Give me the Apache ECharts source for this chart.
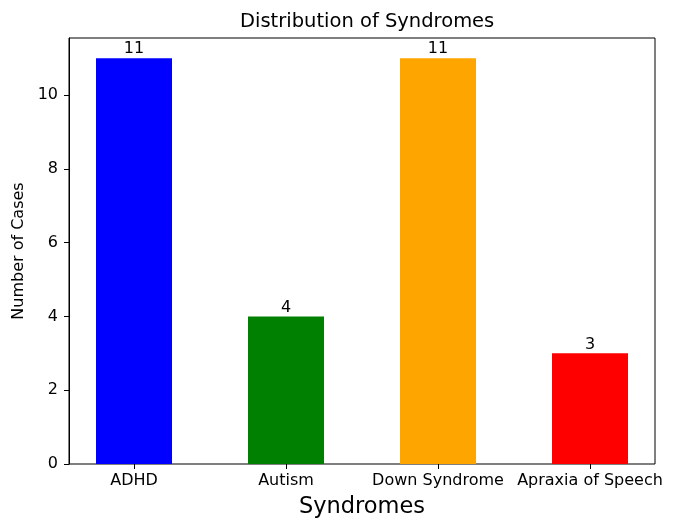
<!DOCTYPE html>
<html>
<head>
<meta charset="utf-8">
<script src="https://cdn.jsdelivr.net/npm/echarts@6/dist/echarts.min.js"></script>
<style>html,body{margin:0;padding:0;background:#fff}#c{width:676px;height:518px}</style>
</head>
<body>
<div id="c"></div>
<script>
const categories = ['ADHD', 'Autism', 'Down Syndrome', 'Apraxia of Speech'];
const cases = [11, 4, 11, 3];
const barColors = ['#0000ff', '#008000', '#ffa500', '#ff0000'];
const yTicks = [0, 2, 4, 6, 8, 10];

const FONT = 'DejaVu Sans';
const chart = echarts.init(document.getElementById('c'), null, {renderer: 'canvas'});
const yMax = 11.55;
chart.setOption({
  backgroundColor: '#fff',
  animation: false,
  textStyle: {fontFamily: FONT},
  title: {
    text: 'Distribution of Syndromes',
    left: 235, top: 7,
    textStyle: {fontFamily: FONT, fontSize: 19.5, fontWeight: 'normal', color: '#000'}
  },
  grid: [
    {left: 69, right: 21, top: 38, bottom: 54, show: true, borderColor: '#000', borderWidth: 1,
     backgroundColor: 'transparent', containLabel: false, outerBoundsMode: 'none'},
    {left: 58, width: 608, top: 38, bottom: 54, containLabel: false, outerBoundsMode: 'none'}
  ],
  xAxis: [
    {gridIndex: 0, type: 'value', min: 0, max: 1, show: false},
    {gridIndex: 1, type: 'category', data: categories,
     axisLine: {show: false},
     axisTick: {show: true, alignWithLabel: true, length: 5, lineStyle: {color: '#000'}},
     axisLabel: {interval: 0, hideOverlap: false, fontSize: 16, color: '#000', margin: 9, fontFamily: FONT},
     name: 'Syndromes', nameLocation: 'middle', nameGap: 32,
     nameTextStyle: {fontSize: 22.5, color: '#000', fontFamily: FONT}}
  ],
  yAxis: [
    {gridIndex: 0, type: 'value', min: 0, max: yMax, interval: 2,
     axisLine: {show: true, lineStyle: {color: '#000'}},
     axisTick: {show: true, length: 5, lineStyle: {color: '#000'}, customValues: yTicks},
     axisLabel: {fontSize: 16, color: '#000', margin: 11, fontFamily: FONT, customValues: yTicks},
     splitLine: {show: false},
     name: 'Number of Cases', nameLocation: 'middle', nameGap: 37, nameRotate: 90,
     nameTextStyle: {fontSize: 16, color: '#000', fontFamily: FONT}},
    {gridIndex: 1, type: 'value', min: 0, max: yMax, show: false}
  ],
  series: [{
    type: 'bar',
    xAxisIndex: 1, yAxisIndex: 1,
    barWidth: 76,
    data: cases.map((v, i) => ({value: v, itemStyle: {color: barColors[i]}})),
    label: {show: true, position: 'top', distance: 1, fontSize: 16, color: '#000', fontFamily: FONT}
  }]
});
</script>
</body>
</html>
